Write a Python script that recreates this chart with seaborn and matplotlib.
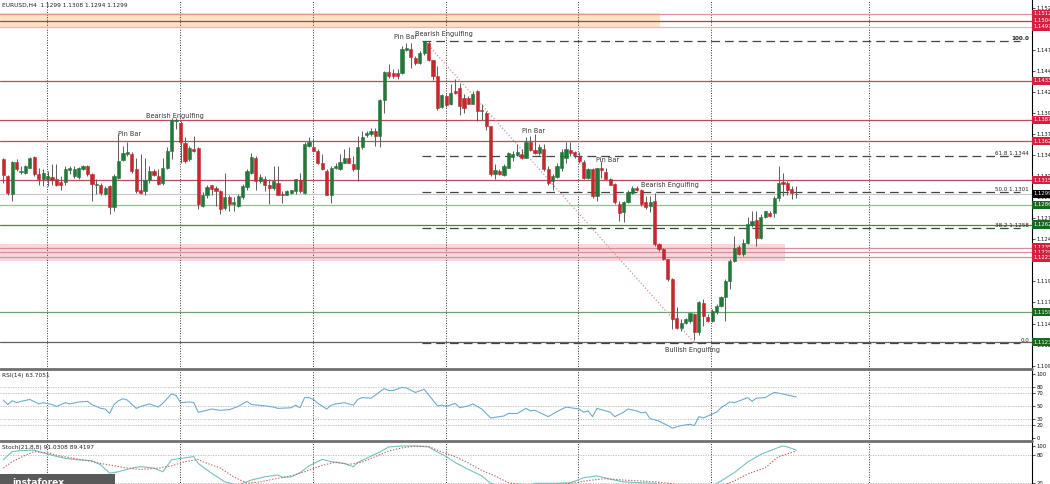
import numpy as np
import pandas as pd
import matplotlib
matplotlib.use("Agg")
import matplotlib.pyplot as plt
import seaborn as sns
from matplotlib.lines import Line2D
from matplotlib.patches import Rectangle
from matplotlib.transforms import blended_transform_factory

sns.set_theme(style="white")
plt.rcParams['font.family'] = ['DejaVu Sans', 'Noto Sans']

# ---------------- data: EURUSD H4 candles ----------------
opens = [1.1340,1.1320,1.1299,1.1337,1.1325,1.1324,1.1330,1.1343,1.1322,1.1316,
 1.1316,1.1319,1.1316,1.1313,1.1313,1.1327,1.1320,1.1319,1.1328,1.1332,
 1.1323,1.1309,1.1310,1.1299,1.1308,1.1283,1.1318,1.1339,1.1346,1.1346,
 1.1328,1.1304,1.1302,1.1315,1.1326,1.1320,1.1312,1.1330,1.1350,1.1385,
 1.1383,1.1359,1.1340,1.1352,1.1353,1.1285,1.1298,1.1309,1.1306,1.1302,
 1.1282,1.1295,1.1287,1.1285,1.1295,1.1307,1.1324,1.1341,1.1314,1.1316,
 1.1310,1.1306,1.1312,1.1299,1.1298,1.1300,1.1302,1.1315,1.1300,1.1356,
 1.1354,1.1350,1.1335,1.1326,1.1298,1.1329,1.1328,1.1336,1.1341,1.1334,
 1.1328,1.1354,1.1369,1.1370,1.1374,1.1367,1.1410,1.1443,1.1442,1.1442,
 1.1442,1.1470,1.1471,1.1460,1.1454,1.1466,1.1478,1.1458,1.1439,1.1402,
 1.1415,1.1405,1.1421,1.1425,1.1413,1.1413,1.1406,1.1421,1.1399,1.1395,
 1.1379,1.1323,1.1326,1.1321,1.1330,1.1343,1.1345,1.1346,1.1342,1.1361,
 1.1351,1.1347,1.1352,1.1328,1.1314,1.1319,1.1330,1.1341,1.1351,1.1348,
 1.1344,1.1337,1.1318,1.1328,1.1296,1.1329,1.1325,1.1316,1.1310,1.1287,
 1.1277,1.1289,1.1300,1.1306,1.1304,1.1289,1.1285,1.1291,1.1239,1.1233,
 1.1221,1.1198,1.1152,1.1140,1.1146,1.1148,1.1156,1.1135,1.1169,1.1153,
 1.1148,1.1159,1.1166,1.1176,1.1196,1.1219,1.1236,1.1227,1.1241,1.1262,
 1.1268,1.1247,1.1271,1.1276,1.1276,1.1294,1.1313,1.1312,1.1305,1.1299]

highs = [1.1342,1.1321,1.1338,1.1340,1.1332,1.1333,1.1343,1.1344,1.1330,1.1328,
 1.1326,1.1334,1.1334,1.1320,1.1332,1.1332,1.1332,1.1331,1.1333,1.1333,
 1.1324,1.1316,1.1312,1.1308,1.1310,1.1322,1.1370,1.1356,1.1360,1.1348,
 1.1342,1.1346,1.1342,1.1332,1.1328,1.1328,1.1342,1.1354,1.1389,1.1389,
 1.1385,1.1366,1.1356,1.1367,1.1354,1.1301,1.1310,1.1310,1.1308,1.1304,
 1.1324,1.1297,1.1295,1.1299,1.1311,1.1328,1.1347,1.1344,1.1322,1.1320,
 1.1316,1.1332,1.1332,1.1302,1.1304,1.1304,1.1317,1.1324,1.1360,1.1366,
 1.1364,1.1352,1.1346,1.1328,1.1332,1.1336,1.1346,1.1352,1.1354,1.1344,
 1.1368,1.1373,1.1373,1.1377,1.1377,1.1411,1.1445,1.1453,1.1447,1.1447,
 1.1474,1.1478,1.1478,1.1462,1.1468,1.1480,1.1480,1.1458,1.1451,1.1417,
 1.1417,1.1429,1.1435,1.1431,1.1417,1.1415,1.1421,1.1422,1.1405,1.1397,
 1.1380,1.1334,1.1328,1.1334,1.1349,1.1350,1.1358,1.1352,1.1366,1.1368,
 1.1370,1.1358,1.1358,1.1332,1.1322,1.1336,1.1352,1.1360,1.1360,1.1350,
 1.1348,1.1339,1.1330,1.1330,1.1330,1.1338,1.1330,1.1318,1.1312,1.1291,
 1.1291,1.1304,1.1308,1.1308,1.1305,1.1296,1.1296,1.1300,1.1241,1.1235,
 1.1222,1.1199,1.1164,1.1150,1.1152,1.1158,1.1158,1.1172,1.1174,1.1156,
 1.1162,1.1168,1.1178,1.1198,1.1221,1.1249,1.1238,1.1245,1.1271,1.1279,
 1.1279,1.1275,1.1279,1.1279,1.1296,1.1332,1.1324,1.1314,1.1308,1.1308]

lows = [1.1312,1.1298,1.1291,1.1326,1.1323,1.1323,1.1329,1.1320,1.1310,1.1308,
 1.1308,1.1310,1.1308,1.1304,1.1310,1.1322,1.1318,1.1316,1.1327,1.1320,
 1.1291,1.1299,1.1298,1.1298,1.1275,1.1279,1.1316,1.1338,1.1344,1.1324,
 1.1300,1.1299,1.1298,1.1312,1.1320,1.1310,1.1310,1.1328,1.1340,1.1376,
 1.1336,1.1336,1.1338,1.1348,1.1281,1.1283,1.1294,1.1297,1.1285,1.1275,
 1.1280,1.1279,1.1278,1.1283,1.1293,1.1304,1.1322,1.1304,1.1312,1.1302,
 1.1287,1.1304,1.1297,1.1288,1.1297,1.1299,1.1299,1.1300,1.1299,1.1354,
 1.1348,1.1334,1.1327,1.1298,1.1288,1.1328,1.1327,1.1335,1.1335,1.1326,
 1.1314,1.1352,1.1366,1.1368,1.1356,1.1354,1.1395,1.1437,1.1436,1.1435,
 1.1441,1.1469,1.1448,1.1452,1.1453,1.1464,1.1457,1.1434,1.1399,1.1401,
 1.1402,1.1404,1.1417,1.1393,1.1395,1.1405,1.1405,1.1385,1.1387,1.1375,
 1.1320,1.1316,1.1321,1.1320,1.1329,1.1338,1.1344,1.1340,1.1341,1.1350,
 1.1346,1.1345,1.1326,1.1310,1.1304,1.1318,1.1326,1.1336,1.1344,1.1342,
 1.1336,1.1317,1.1317,1.1294,1.1290,1.1318,1.1316,1.1309,1.1287,1.1267,
 1.1265,1.1288,1.1299,1.1302,1.1285,1.1281,1.1277,1.1237,1.1231,1.1220,
 1.1196,1.1138,1.1138,1.1136,1.1144,1.1146,1.1125,1.1131,1.1142,1.1147,
 1.1147,1.1156,1.1164,1.1148,1.1186,1.1218,1.1226,1.1225,1.1239,1.1259,
 1.1237,1.1245,1.1270,1.1272,1.1272,1.1290,1.1296,1.1298,1.1293,1.1294]

closes = [1.1321,1.1300,1.1337,1.1328,1.1326,1.1332,1.1342,1.1322,1.1316,1.1324,
 1.1320,1.1315,1.1310,1.1310,1.1328,1.1330,1.1328,1.1329,1.1332,1.1323,
 1.1311,1.1311,1.1300,1.1306,1.1283,1.1320,1.1338,1.1347,1.1348,1.1326,
 1.1302,1.1300,1.1315,1.1326,1.1321,1.1311,1.1330,1.1350,1.1387,1.1387,
 1.1360,1.1338,1.1353,1.1350,1.1287,1.1298,1.1307,1.1305,1.1302,1.1281,
 1.1295,1.1287,1.1289,1.1296,1.1308,1.1326,1.1343,1.1314,1.1319,1.1310,
 1.1306,1.1314,1.1298,1.1298,1.1302,1.1303,1.1316,1.1302,1.1358,1.1361,
 1.1350,1.1336,1.1328,1.1298,1.1329,1.1332,1.1337,1.1341,1.1336,1.1328,
 1.1354,1.1366,1.1371,1.1374,1.1368,1.1410,1.1444,1.1439,1.1439,1.1439,
 1.1471,1.1472,1.1461,1.1454,1.1466,1.1480,1.1458,1.1439,1.1401,1.1416,
 1.1404,1.1419,1.1419,1.1403,1.1401,1.1406,1.1418,1.1397,1.1397,1.1379,
 1.1322,1.1327,1.1322,1.1332,1.1347,1.1346,1.1349,1.1342,1.1360,1.1351,
 1.1347,1.1354,1.1328,1.1312,1.1320,1.1332,1.1348,1.1352,1.1347,1.1345,
 1.1338,1.1318,1.1328,1.1296,1.1329,1.1327,1.1317,1.1310,1.1289,1.1276,
 1.1289,1.1301,1.1306,1.1304,1.1287,1.1283,1.1289,1.1239,1.1233,1.1221,
 1.1198,1.1150,1.1140,1.1146,1.1150,1.1157,1.1135,1.1170,1.1154,1.1148,
 1.1160,1.1166,1.1176,1.1196,1.1219,1.1235,1.1227,1.1241,1.1263,1.1267,
 1.1246,1.1272,1.1278,1.1273,1.1294,1.1312,1.1311,1.1304,1.1300,1.1299]

# RSI(14)
rsi_bar = [0,1,2,3,4,6,8,9,11,12,14,15,17,19,20,22,23,24,25,26,27,28,30,31,33,35,36,38,39,40,
           42,43,44,46,47,49,51,53,55,56,59,61,62,65,66,67,68,69,70,71,73,74,75,77,79,80,81,83,86,87,
           88,90,91,93,95,98,99,100,102,103,105,106,108,110,111,113,114,116,118,119,120,123,125,127,129,130,131,132,133,134,
           135,137,138,140,141,143,144,145,146,148,150,151,153,155,156,157,158,159,161,162,164,165,167,168,169,170,172,173,174,175,
           177,179]
rsi_val = [59,52,58,55,57,60,53,55,52,49,55,53,56,57,52,46,45,38,52,58,61,59,46,49,53,48,54,69,66,55,
           56,55,40,43,45,43,44,49,57,52,50,48,46,47,51,47,63,63,60,54,45,51,53,55,51,60,63,62,77,74,
           74,79,78,71,76,50,51,49,54,47,50,53,45,31,32,34,38,38,46,42,43,33,41,48,46,45,40,42,33,46,
           44,40,33,40,45,42,39,40,30,26,19,15,19,21,19,33,31,34,40,47,56,55,60,63,57,62,63,67,71,70,
           67,64]

# Stochastic(21,8,8) main and signal lines
stk_bar = [0,2,4,7,9,11,14,17,20,22,24,26,29,31,32,34,36,38,40,43,44,47,50,53,56,59,62,63,65,67,
           69,72,74,77,79,80,83,85,87,90,93,96,98,100,102,105,108,110,113,117,120,125,128,131,134,137,140,144,147,152,
           156,159,162,165,168,171,175,176,177,179]
stk_val = [70,88,90,91,85,80,73,70,68,59,41,44,52,55,54,52,44,70,73,77,62,41,22,15,26,33,37,32,33,42,
           57,71,66,62,55,64,78,87,98,100,100,98,87,77,64,49,35,19,9,8,19,19,20,31,35,28,22,20,19,9,
           5,7,24,42,65,82,97,100,98,91]
sig_bar = [0,2,5,7,10,13,16,19,22,25,28,31,35,38,41,44,45,49,52,55,58,61,65,68,72,75,78,81,84,87,
           90,93,96,99,102,105,108,111,114,120,129,132,136,140,144,147,150,155,159,162,165,168,172,175,179]
sig_val = [52,66,80,88,85,78,73,68,62,57,52,49,52,57,66,71,66,52,33,19,22,28,35,44,58,65,60,65,77,89,
           96,100,99,87,77,63,47,35,20,13,20,25,29,26,24,22,19,11,10,13,24,39,53,77,89]

# Horizontal levels drawn on the chart
zone_levels = [1.15124, 1.15041, 1.14970]          # inside orange supply zone
red_levels = [1.14329, 1.13866, 1.13616, 1.13153]
pink_levels = [1.12352, 1.12293, 1.12234]
green_levels = [1.12857, 1.12625, 1.11586, 1.11230]
bid_price = 1.1299
orange_zone = (1.14958, 1.15136, 148.2)            # low, high, last bar
pink_zone = (1.12192, 1.12394, 176.5)

fib_names = ['0.0', '38.2', '50.0', '61.8', '100.0']
fib_prices = [1.1122, 1.1258, 1.1301, 1.1344, 1.1480]
fib_start_bar = 94.5

trend_bars = [95.5, 156.0]
trend_prices = [1.1478, 1.1122]

pattern_names = ['Pin Bar', 'Bearish Engulfing', 'Pin Bar', 'Bearish Engulfing',
                 'Pin Bar', 'Pin Bar', 'Bearish Engulfing', 'Bullish Engulfing']
pattern_bars = [28.6, 38.8, 90.7, 99.5, 119.6, 136.5, 150.5, 155.5]
pattern_prices = [1.1370, 1.1391, 1.1485, 1.1489, 1.1373, 1.1339, 1.1309, 1.1114]

week_seps = [9.86, 39.86, 69.86, 99.86, 129.7, 159.75, 195.4]
price_ticks = [1.1095, 1.1120, 1.1145, 1.1170, 1.1195, 1.1220, 1.1245, 1.1270, 1.1295,
               1.1320, 1.1345, 1.1370, 1.1395, 1.1420, 1.1445, 1.1470, 1.1495, 1.1520]

# ---------------- figure ----------------
W, H = 1050, 484
fig = plt.figure(figsize=(W / 100, H / 100), dpi=100)
fig.patch.set_facecolor('white')

def frame(top_px, bot_px, right_px=1032):
    return [0, (H - bot_px) / H, right_px / W, (bot_px - top_px) / H]

ax = fig.add_axes(frame(0, 369))
ax2 = fig.add_axes(frame(369, 441))
ax3 = fig.add_axes(frame(441, 500))

LAB = 3.8
XL = (-0.745, 232.2)
for a in (ax, ax2, ax3):
    a.set_xlim(*XL)
    a.set_facecolor('white')
    for s in ('left', 'top', 'bottom'):
        a.spines[s].set_visible(False)
    a.spines['right'].set_color('black')
    a.spines['right'].set_linewidth(0.8)
    a.set_xticks([])
    a.yaxis.tick_right()
    a.tick_params(axis='y', length=2, width=0.5, pad=1.2, labelsize=LAB, colors='#111111', direction='out')
    for b in week_seps:
        a.axvline(b, color='#333333', lw=0.7, ls=(0, (1, 1.6)), zorder=1)

ax.set_ylim(1.10910, 1.15290)
ax.set_yticks(price_ticks)
ax.set_yticklabels([f"{t:.4f}" for t in price_ticks])

# zones
ax.fill_between([XL[0], orange_zone[2]], orange_zone[0], orange_zone[1], color='#fde2c4', lw=0, zorder=0.5)
ax.fill_between([XL[0], pink_zone[2]], pink_zone[0], pink_zone[1], color='#f8d7da', lw=0, zorder=0.5)

zone_cols = ['#e5939a', '#b23c4a', '#ebb2b7']
for lv, col in zip(zone_levels, zone_cols):
    ax.axhline(lv, color=col, lw=0.9, zorder=1.5)
for lv in red_levels:
    ax.axhline(lv, color='#bb4a5a', lw=0.9, zorder=1.5)
for lv in pink_levels:
    ax.axhline(lv, color='#d98f9b', lw=0.9, zorder=1.5)
green_cols = ['#8fc08f', '#3f8a45', '#6aa56e', '#606060']
for lv, col in zip(green_levels, green_cols):
    ax.axhline(lv, color=col, lw=0.9, zorder=1.5)
ax.axhline(bid_price, color='#c8c8c8', lw=0.8, zorder=1.5)

# fibonacci lines
fib_end = 229.5
for name, p in zip(fib_names, fib_prices):
    ax.plot([fib_start_bar, fib_end], [p, p], color='#444444', lw=0.9, ls=(0, (7, 4)), zorder=2)
    txt = name if name in ('0.0', '100.0') else f"{name} {p:.4f}"
    ax.text(231.5, p, txt, ha='right', va='bottom', fontsize=4.1, color='#222222',
            fontweight='bold' if name == '100.0' else 'normal', zorder=6)

# trend line
ax.plot(trend_bars, trend_prices, color='#c99893', lw=0.9, ls=(0, (1, 1.6)), zorder=2)

# candles
xb = np.arange(len(opens))
o = np.array(opens); c = np.array(closes); hi = np.array(highs); lo = np.array(lows)
up = c >= o
cols = np.where(up, '#23773a', '#c4282f')
ax.vlines(xb, lo, hi, color='#5c5c5c', lw=0.7, zorder=3)
ax.bar(xb, np.abs(c - o), bottom=np.minimum(o, c), width=0.72, color=cols,
       edgecolor=cols, linewidth=0.4, zorder=4)

# pattern annotations
for name, b, p in zip(pattern_names, pattern_bars, pattern_prices):
    ax.text(b, p, name, ha='center', va='center', fontsize=4.7, color='#333333', zorder=6)

# level tags on the price scale
tr = blended_transform_factory(ax.transAxes, ax.transData)
tags = ([(lv, '#d3203f') for lv in zone_levels + red_levels + pink_levels] +
        [(lv, '#17691f') for lv in green_levels] + [(bid_price, '#000000')])
for lv, fc in tags:
    ax.text(1.0015, lv, f"{lv:.4f}", transform=tr, ha='left', va='center', fontsize=LAB,
            color='white', clip_on=False, zorder=10,
            bbox=dict(boxstyle='square,pad=0.3', fc=fc, ec='none'))

# ---------------- RSI panel ----------------
rsi_df = pd.DataFrame({'bar': rsi_bar, 'rsi': rsi_val})
sns.lineplot(data=rsi_df, x='bar', y='rsi', ax=ax2, color='#6eaccf', lw=0.8, zorder=3)
ax2.set_ylim(-5.2, 107.8)
ax2.set_yticks([0, 20, 30, 50, 70, 80, 100])
for g in (20, 30, 50, 70, 80):
    ax2.axhline(g, color='#b8b8b8', lw=0.6, ls=(0, (1.5, 1.5)), zorder=1)
ax2.set_xlabel(''); ax2.set_ylabel('')
ax2.set_xlim(*XL)

# ---------------- Stochastic panel ----------------
stk_df = pd.DataFrame({'bar': stk_bar, 'v': stk_val})
sig_df = pd.DataFrame({'bar': sig_bar, 'v': sig_val})
sns.lineplot(data=stk_df, x='bar', y='v', ax=ax3, color='#72c2c0', lw=0.8, zorder=3)
sns.lineplot(data=sig_df, x='bar', y='v', ax=ax3, color='#c5605c', lw=0.8, zorder=3)
ax3.lines[-1].set_linestyle((0, (1.2, 1.5)))
ax3.set_ylim(-17.4, 110.9)
ax3.set_yticks([20, 80, 100])
for g in (20, 80):
    ax3.axhline(g, color='#b8b8b8', lw=0.6, ls=(0, (1.5, 1.5)), zorder=1)
ax3.set_xlabel(''); ax3.set_ylabel('')
ax3.set_xlim(*XL)

# panel separators
for ypx in (369, 441):
    fig.add_artist(Line2D([0, 1032 / W], [(H - ypx) / H] * 2, transform=fig.transFigure,
                          color='#707070', lw=2.0, zorder=20))

# captions
fig.text(2 / W, 1 - 5 / H, "EURUSD,H4  1.1299 1.1308 1.1294 1.1299", fontsize=4.2, va='center', color='#222222')
fig.text(2 / W, 1 - 376 / H, "RSI(14) 63.7051", fontsize=4.2, va='center', color='#222222')
fig.text(2 / W, 1 - 447 / H, "Stoch(21,8,8) 91.0308 89.4197", fontsize=4.2, va='center', color='#222222')

# watermark
fig.add_artist(Rectangle((0, 0), 115 / W, 10 / H, transform=fig.transFigure,
                         facecolor='#5a5a5a', edgecolor='none', zorder=30))
fig.text(12 / W, 1 - 478 / H, "instaforex", fontsize=6.5, fontweight='bold', color='white',
         va='top', ha='left', zorder=31)

fig.savefig('out.png', dpi=100, facecolor='white')
